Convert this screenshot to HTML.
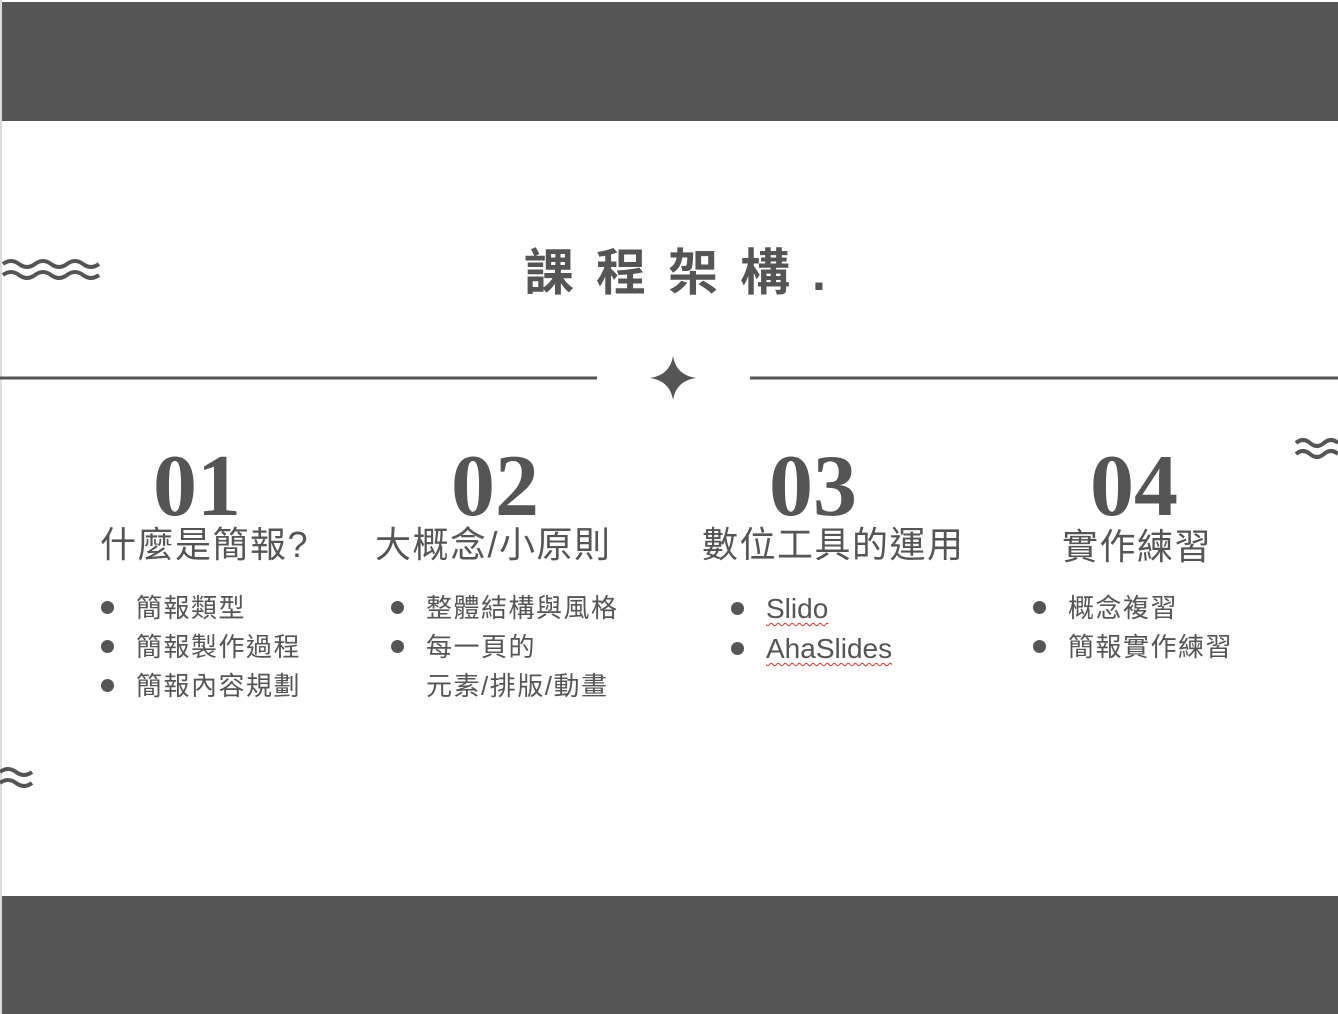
<!DOCTYPE html>
<html><head><meta charset="utf-8"><style>
body{margin:0;width:1338px;height:1014px;background:#fff;position:relative;overflow:hidden;font-family:"Liberation Sans","Noto Sans CJK TC",sans-serif;color:#555}
.a{position:absolute;white-space:nowrap}
.band{position:absolute;left:2px;right:0;background:#565656}
.num{font-family:"Liberation Serif",serif;font-weight:bold;font-size:88px;line-height:1;letter-spacing:0px}
.sub{font-size:36px;line-height:1;letter-spacing:1.5px}
.li{font-size:26px;line-height:39px;letter-spacing:1.5px}
.li span{display:inline-block;width:13px;height:13px;border-radius:50%;background:#555;margin-right:22px;vertical-align:middle;position:relative;top:-3px}
.u{text-decoration:underline wavy #d33;text-decoration-thickness:1px;text-underline-offset:4px;letter-spacing:0;font-size:28px}
</style></head><body>
<div class="a" style="left:0;top:0;width:2px;height:1014px;background:#ddd"></div>
<div class="band" style="top:2px;height:119px"></div>
<div class="band" style="top:896px;height:118px"></div>
<svg class="a" style="left:0;top:0" width="1338" height="1014">
<g fill="none" stroke="#555" stroke-width="4">
<path d="M3 264 q8-6 16 0 t16 0 t16 0 t16 0 t16 0 t16 0"/>
<path d="M3 275 q8-6 16 0 t16 0 t16 0 t16 0 t16 0 t16 0"/>
<path d="M1296 443 q7-6 14 0 t14 0 t14 0"/>
<path d="M1296 454 q7-6 14 0 t14 0 t14 0"/>
<path d="M0 772 q8-6 16 0 t16 0"/>
<path d="M0 783 q8-6 16 0 t16 0"/>
</g>
<line x1="0" y1="378" x2="597" y2="378" stroke="#555" stroke-width="3"/>
<line x1="750" y1="378" x2="1338" y2="378" stroke="#555" stroke-width="3"/>
<path d="M673 356 Q676 375 696 378 Q676 381 673 400 Q670 381 650 378 Q670 375 673 356Z" fill="#555"/>
</svg>
<div class="a" style="left:524px;top:244px;font-size:50px;font-weight:bold;letter-spacing:22px;line-height:58px">課程架構.</div>
<div class="a num" style="left:153px;top:443px">01</div>
<div class="a num" style="left:451px;top:443px">02</div>
<div class="a num" style="left:769px;top:443px">03</div>
<div class="a num" style="left:1090px;top:443px">04</div>
<div class="a sub" style="left:100px;top:527px">什麼是簡報?</div>
<div class="a sub" style="left:375px;top:527px">大概念/小原則</div>
<div class="a sub" style="left:702px;top:527px">數位工具的運用</div>
<div class="a sub" style="left:1062px;top:529px">實作練習</div>
<div class="a li" style="left:101px;top:589px"><span></span>簡報類型<br><span></span>簡報製作過程<br><span></span>簡報內容規劃</div>
<div class="a li" style="left:391px;top:589px"><span></span>整體結構與風格<br><span></span>每一頁的<br><span style="visibility:hidden"></span>元素/排版/動畫</div>
<div class="a li" style="left:731px;top:589px"><span></span><b class="u" style="font-weight:normal">Slido</b><br><span></span><b class="u" style="font-weight:normal">AhaSlides</b></div>
<div class="a li" style="left:1033px;top:589px"><span></span>概念複習<br><span></span>簡報實作練習</div>
</body></html>
